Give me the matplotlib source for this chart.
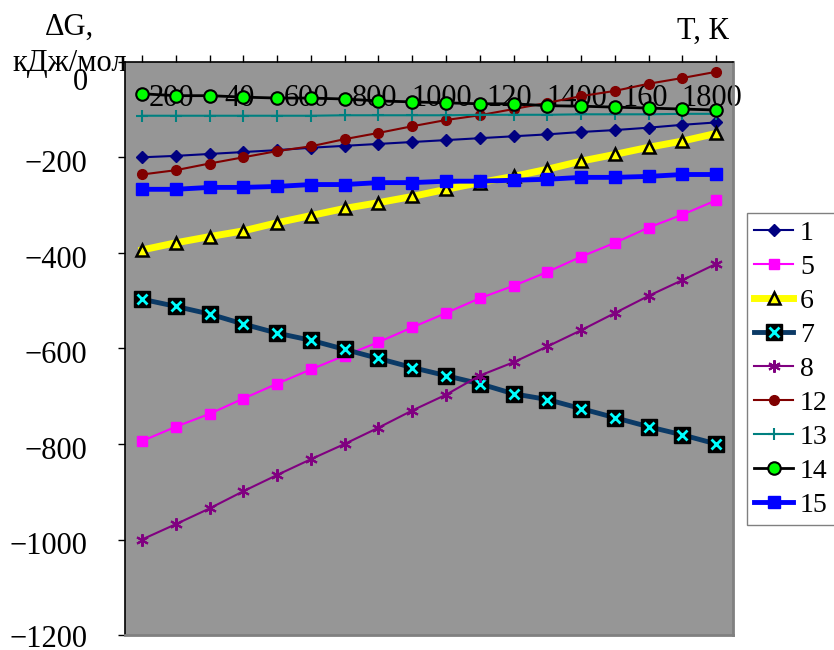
import numpy as np
import matplotlib
matplotlib.use('Agg')
import matplotlib.pyplot as plt
from matplotlib.transforms import ScaledTranslation
from matplotlib.legend_handler import HandlerTuple

plt.rcParams['font.family'] = ['Liberation Serif', 'DejaVu Serif']

# температура, К
T = [100, 200, 300, 400, 500, 600, 700, 800, 900, 1000,
     1100, 1200, 1300, 1400, 1500, 1600, 1700, 1800]
# подписи оси T (как на исходном рисунке)
t_labels = ['', '200', '', '40', '', '600', '', '800', '', '1000',
            '', '120', '', '1400', '', '160', '', '1800']

# ΔG, кДж/моль для реакций
g1 = [-200, -197, -193, -189, -185, -180, -176, -172, -168, -164,
      -160, -156, -152, -147, -143, -138, -132, -127]
g5 = [-794, -764, -737, -705, -674, -644, -615, -587, -556, -526,
      -495, -469, -440, -408, -379, -347, -320, -290]
g6 = [-394, -379, -366, -354, -337, -322, -307, -295, -282, -267,
      -253, -240, -225, -208, -194, -179, -166, -150]
g7 = [-497, -512, -528, -549, -568, -583, -602, -621, -640, -657,
      -674, -695, -707, -726, -745, -764, -781, -800]
g8 = [-1000, -968, -935, -899, -865, -832, -800, -766, -730, -697,
      -657, -629, -596, -562, -526, -490, -457, -423]
g12 = [-236, -227, -213, -200, -187, -177, -162, -149, -135, -122,
       -112, -99, -86, -72, -61, -46, -34, -21]
g13 = [-113, -113, -113, -113, -113, -113, -112, -112, -112, -112,
       -111, -111, -111, -110, -110, -110, -109, -109]
g14 = [-67, -71, -71, -74, -76, -76, -78, -82, -84, -86,
       -88, -88, -92, -93, -95, -97, -99, -101]
g15 = [-267, -267, -263, -263, -261, -257, -257, -253, -253, -250,
       -250, -248, -246, -242, -242, -240, -236, -236]

fig = plt.figure(figsize=(8.34, 6.5), dpi=100)
ax = fig.add_axes([0.150, 0.023, 0.729, 0.882])
ax.set_facecolor('#969696')
ax.set_axisbelow(True)

h1, = ax.plot(T, g1, color='#000080', lw=1.5, marker='D', ms=6)
h5, = ax.plot(T, g5, color='#FF00FF', lw=1.5, marker='s', ms=7)
h6, = ax.plot(T, g6, color='#FFFF00', lw=5, marker='^', ms=8,
              mfc='#FFFF00', mec='black', mew=1.8)
h7, = ax.plot(T, g7, color='#0b3a66', lw=3.5, marker='s', ms=11,
              mfc='black', mec='black')
h7x, = ax.plot(T, g7, ls='none', marker='x', ms=7, mec='#00FFFF', mew=2)
h8, = ax.plot(T, g8, color='#800080', lw=1.5, marker=(6, 2, 0), ms=9, mew=1.5)
h12, = ax.plot(T, g12, color='#800000', lw=1.5, marker='o', ms=7)
h13, = ax.plot(T, g13, color='#008080', lw=1.5, marker='+', ms=9, mew=1.5)
h14, = ax.plot(T, g14, color='black', lw=2, marker='o', ms=9,
               mfc='#00FF00', mec='black', mew=1.5)
h15, = ax.plot(T, g15, color='#0000FF', lw=3.5, marker='s', ms=9)

ax.set_xlim(50, 1850)
ax.set_ylim(-1200, 0)
ax.set_yticks(np.arange(-1200, 1, 200))
ax.set_xticks(T)
ax.set_xticklabels(t_labels)

ax.tick_params(axis='x', top=True, bottom=False, labeltop=True, labelbottom=False,
               direction='out', length=5, width=1, pad=-42, labelsize=22)
ax.tick_params(axis='y', direction='out', length=5, width=1, pad=22, labelsize=22)

# сдвиг подписей как в оригинале
for lab in ax.get_xticklabels():
    lab.set_transform(lab.get_transform() + ScaledTranslation(-0.04, 0, fig.dpi_scale_trans))
ylabs = ax.get_yticklabels()
for lab in ylabs[1:]:
    lab.set_transform(lab.get_transform() + ScaledTranslation(0, -0.04, fig.dpi_scale_trans))
ylabs[0].set_transform(ylabs[0].get_transform() + ScaledTranslation(0, -0.01, fig.dpi_scale_trans))
ylabs[-1].set_transform(ylabs[-1].get_transform() + ScaledTranslation(0, -0.13, fig.dpi_scale_trans))

for s in ['left', 'top']:
    ax.spines[s].set_color('black')
    ax.spines[s].set_linewidth(1.2)
for s in ['right', 'bottom']:
    ax.spines[s].set_color('#808080')
    ax.spines[s].set_linewidth(2)

fig.text(0.083, 0.958, '\u0394G,', ha='center', va='center', fontsize=22)
fig.text(0.084, 0.925, 'кДж/мол', ha='center', va='top', fontsize=22, zorder=-1)
fig.text(0.843, 0.952, 'T, К', ha='center', va='center', fontsize=22)

leg = fig.legend([h1, h5, h6, (h7, h7x), h8, h12, h13, h14, h15],
                 ['1', '5', '6', '7', '8', '12', '13', '14', '15'],
                 handler_map={tuple: HandlerTuple(ndivide=1)},
                 loc='upper left', bbox_to_anchor=(0.896, 0.672),
                 fontsize=20, frameon=True, fancybox=False, framealpha=1,
                 edgecolor='#808080', handlelength=1.4, handletextpad=0.25,
                 labelspacing=0.31, borderpad=0.25, borderaxespad=0)
leg.get_frame().set_linewidth(1)

fig.savefig('out.png', dpi=100)
